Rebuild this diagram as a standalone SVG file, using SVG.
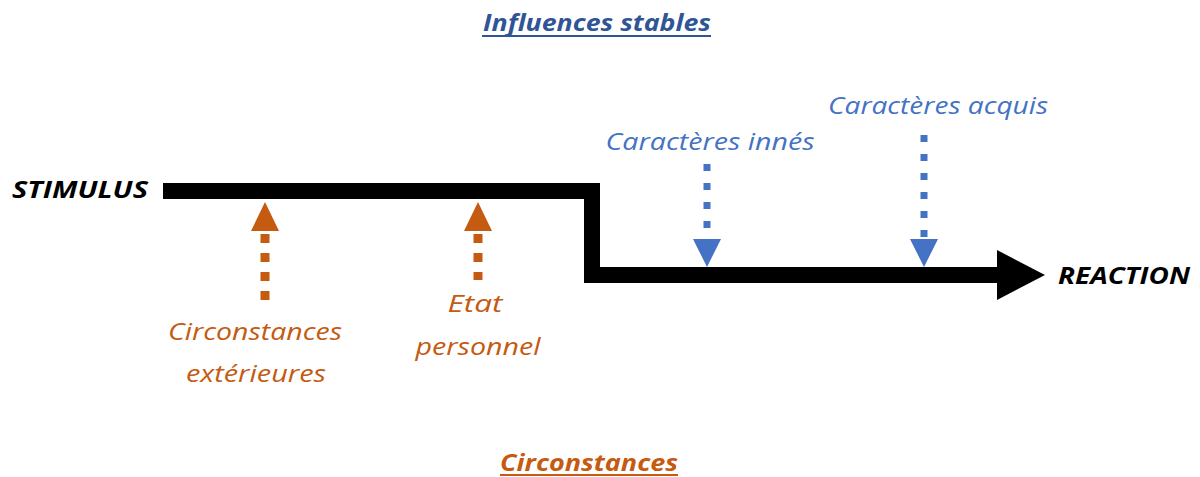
<svg xmlns="http://www.w3.org/2000/svg" width="1200" height="477" viewBox="0 0 1200 477">
<style>
text{font-family:"Open Sans","Liberation Sans",sans-serif;font-style:italic}
.b{font-weight:bold}
.blk{fill:#000}
.or{fill:#C55A11}
.bl{fill:#4472C4}
.tb{fill:#2F5597}
.dor{stroke:#C55A11;stroke-width:9;stroke-dasharray:9 10;fill:none}
.dbl{stroke:#4472C4;stroke-width:7;stroke-dasharray:7 12;fill:none}
</style>
<rect width="1200" height="477" fill="#fff"/>
<g id="title">
<text class="b tb" x="597" y="31" font-size="24" text-anchor="middle" textLength="228" lengthAdjust="spacingAndGlyphs">Influences stables</text>
<rect x="482" y="35" width="229" height="2" fill="#2F5597"/>
</g>
<g id="stimulus"><text class="b blk" x="12" y="198" font-size="23" textLength="136" lengthAdjust="spacingAndGlyphs">STIMULUS</text></g>
<g id="reaction"><text class="b blk" x="1058" y="284" font-size="23" textLength="132" lengthAdjust="spacingAndGlyphs">REACTION</text></g>
<g id="circ-ext">
<text class="or" x="255" y="340" font-size="23" text-anchor="middle" textLength="174" lengthAdjust="spacingAndGlyphs">Circonstances</text>
<text class="or" x="256" y="382" font-size="23" text-anchor="middle" textLength="140" lengthAdjust="spacingAndGlyphs">extérieures</text>
</g>
<g id="etat">
<text class="or" x="475" y="312" font-size="23" text-anchor="middle" textLength="55" lengthAdjust="spacingAndGlyphs">Etat</text>
<text class="or" x="478" y="355" font-size="23" text-anchor="middle" textLength="125" lengthAdjust="spacingAndGlyphs">personnel</text>
</g>
<g id="innes"><text class="bl" x="710" y="150" font-size="23" text-anchor="middle" textLength="209" lengthAdjust="spacingAndGlyphs">Caractères innés</text></g>
<g id="acquis"><text class="bl" x="938" y="114" font-size="23" text-anchor="middle" textLength="220" lengthAdjust="spacingAndGlyphs">Caractères acquis</text></g>
<g id="circ">
<text class="b or" x="589" y="471" font-size="24" text-anchor="middle" textLength="178" lengthAdjust="spacingAndGlyphs">Circonstances</text>
<rect x="500" y="474" width="178" height="2" fill="#C55A11"/>
</g>
<g id="connectors">
<path d="M163 191 H592 V275 H1000" stroke="#000" stroke-width="16" fill="none" stroke-linejoin="miter"/>
<polygon points="997,250 1045,275 997,300" fill="#000"/>
<line class="dor" x1="265" y1="234" x2="265" y2="304"/>
<polygon points="251,231 265,202 279,231" fill="#C55A11"/>
<line class="dor" x1="478" y1="234" x2="478" y2="280"/>
<polygon points="464,231 478,202 492,231" fill="#C55A11"/>
<line class="dbl" x1="707" y1="164" x2="707" y2="240"/>
<polygon points="693,239 707,267 721,239" fill="#4472C4"/>
<line class="dbl" x1="924" y1="135" x2="924" y2="240"/>
<polygon points="910,239 924,267 938,239" fill="#4472C4"/>
</g>
</svg>
